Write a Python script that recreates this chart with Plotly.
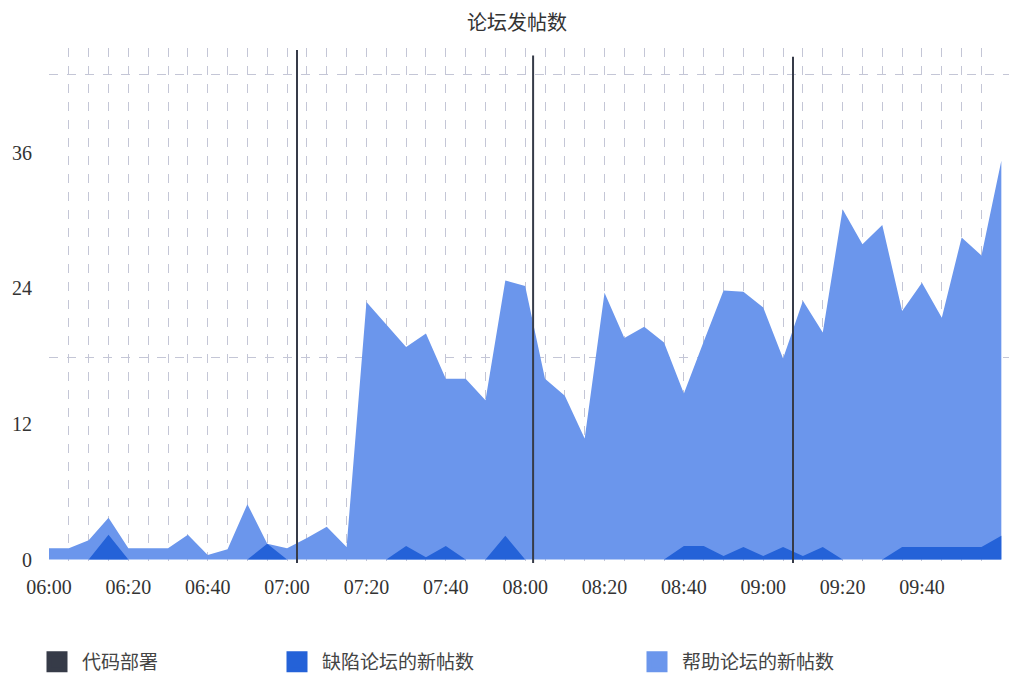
import plotly.graph_objects as go

# ---------------- data ----------------
times = ["06:00", "06:05", "06:10", "06:15", "06:20", "06:25", "06:30", "06:35", "06:40", "06:45",
         "06:50", "06:55", "07:00", "07:05", "07:10", "07:15", "07:20", "07:25", "07:30", "07:35",
         "07:40", "07:45", "07:50", "07:55", "08:00", "08:05", "08:10", "08:15", "08:20", "08:25",
         "08:30", "08:35", "08:40", "08:45", "08:50", "08:55", "09:00", "09:05", "09:10", "09:15",
         "09:20", "09:25", "09:30", "09:35", "09:40", "09:45", "09:50", "09:55", "10:00"]

help_posts = [1.0, 1.0, 1.7, 3.7, 1.0, 1.0, 1.0, 2.2, 0.4, 0.9,
              4.9, 1.4, 1.0, 1.9, 2.9, 1.1, 22.8, 20.8, 18.8, 20.0,
              16.0, 16.0, 14.1, 24.7, 24.2, 16.0, 14.5, 10.7, 23.6, 19.6,
              20.6, 19.2, 14.7, 19.3, 23.8, 23.7, 22.3, 17.8, 22.9, 20.1,
              31.0, 27.9, 29.6, 22.0, 24.5, 21.4, 28.5, 26.9, 35.3]

defect_posts = [0, 0, 0, 2.2, 0, 0, 0, 0, 0, 0,
                0, 1.4, 0, 0, 0, 0, 0, 0, 1.2, 0.2,
                1.2, 0, 0, 2.1, 0, 0, 0, 0, 0, 0,
                0, 0, 1.2, 1.2, 0.3, 1.1, 0.3, 1.1, 0.3, 1.1,
                0, 0, 0, 1.1, 1.1, 1.1, 1.1, 1.1, 2.1]

deploy_times = ["07:02:30", "08:02:00", "09:07:30"]
deploy_tops = [45.1, 44.6, 44.5]
deploy_bottom = -0.3

x_tick_labels = ["06:00", "06:20", "06:40", "07:00", "07:20", "07:40",
                 "08:00", "08:20", "08:40", "09:00", "09:20", "09:40"]
y_tick_values = [0, 12, 24, 36]
y_grid_values = [17.9, 42.9]

series_names = ["代码部署", "缺陷论坛的新帖数", "帮助论坛的新帖数"]
title_text = "论坛发帖数"

# ---------------- styling ----------------
DAY = "2024-01-01 "
C_DEPLOY = "#363b48"
C_DEFECT = "#2462d8"
C_HELP = "#6b96ec"
GRID = "#c4c6d6"
SERIF = "Liberation Serif, Times New Roman, serif"
CJK = "Noto Sans CJK SC, sans-serif"
W, H = 1009, 668   # page body has an 8px margin

x = [DAY + t for t in times]

fig = go.Figure()

fig.add_trace(go.Scatter(
    x=x, y=help_posts, mode="none", fill="tozeroy", fillcolor=C_HELP,
    name=series_names[2], legendgroup="help", showlegend=False))
fig.add_trace(go.Scatter(
    x=x, y=defect_posts, mode="none", fill="tozeroy", fillcolor=C_DEFECT,
    name=series_names[1], legendgroup="defect", showlegend=False))

dx, dy = [], []
for t, top in zip(deploy_times, deploy_tops):
    dx += [DAY + t, DAY + t, None]
    dy += [deploy_bottom, top, None]
fig.add_trace(go.Scatter(
    x=dx, y=dy, mode="lines", line=dict(color=C_DEPLOY, width=2),
    name=series_names[0], legendgroup="deploy", showlegend=False))

# legend swatches (square keys)
for name, col, grp, leg in [(series_names[0], C_DEPLOY, "deploy", "legend"),
                            (series_names[1], C_DEFECT, "defect", "legend2"),
                            (series_names[2], C_HELP, "help", "legend3")]:
    fig.add_trace(go.Scatter(
        x=[None], y=[None], mode="markers", name=name, legendgroup=grp, legend=leg,
        marker=dict(symbol="square", size=16, color=col, line=dict(color=col, width=5))))

leg_common = dict(xref="container", yref="container", yanchor="middle", xanchor="left",
                  y=1 - 654 / H, bgcolor="rgba(0,0,0,0)", borderwidth=0,
                  font=dict(family=CJK, size=19, color="#444444"), itemwidth=40)

fig.update_layout(
    width=W, height=H,
    margin=dict(l=41, r=0, t=40, b=113, autoexpand=False),
    paper_bgcolor="white", plot_bgcolor="white",
    title=dict(text=title_text, x=509 / W, xanchor="center", y=1 - 15 / H, yanchor="middle",
               font=dict(family=CJK, size=20, color="#333333")),
    legend=dict(x=24 / W, **leg_common),
    legend2=dict(x=264 / W, **leg_common),
    legend3=dict(x=624 / W, **leg_common),
    showlegend=True,
)

minor_vals = [DAY + t for t in times[:-1] if t not in x_tick_labels]
fig.update_xaxes(
    type="date",
    range=[DAY + "06:00", DAY + "10:03:57"],
    tickmode="array",
    tickvals=[DAY + t for t in x_tick_labels],
    ticktext=x_tick_labels,
    tickangle=0,
    ticks="", showline=False, zeroline=False,
    showgrid=True, gridcolor=GRID, griddash="dash", gridwidth=1,
    minor=dict(tickmode="array", tickvals=minor_vals, showgrid=True,
               gridcolor=GRID, griddash="dash", gridwidth=1, ticks=""),
    tickfont=dict(family=SERIF, size=20, color="#333333"),
    ticklabelstandoff=10,
)
fig.update_yaxes(
    range=[-0.31, 45.27],
    tickmode="array", tickvals=y_tick_values,
    ticktext=[str(v) for v in y_tick_values],
    ticks="", showline=False, zeroline=False, showgrid=False,
    minor=dict(tickmode="array", tickvals=y_grid_values, showgrid=True,
               gridcolor=GRID, griddash="dash", gridwidth=1, ticks=""),
    tickfont=dict(family=SERIF, size=20, color="#333333"),
    ticklabelstandoff=16,
)

fig.write_html("out.html")
